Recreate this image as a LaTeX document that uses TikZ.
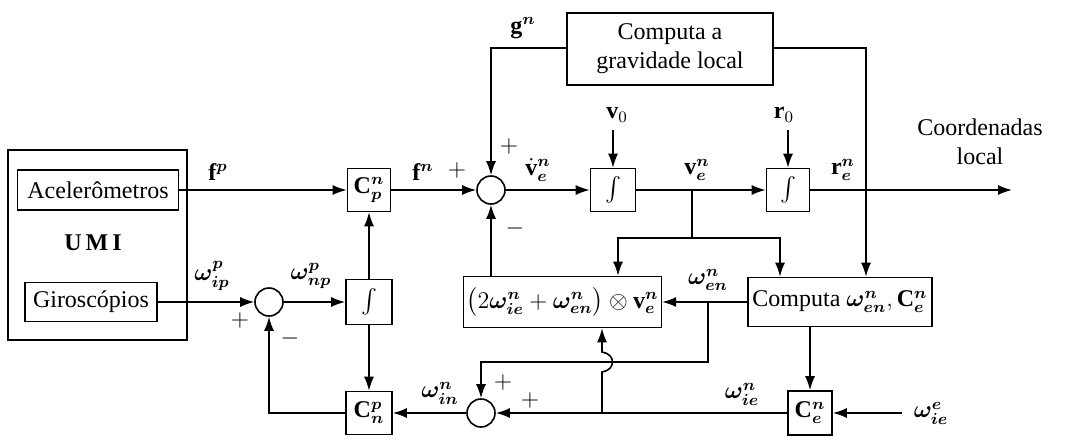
\documentclass[tikz,border=0pt,12pt]{standalone}
\usepackage{amsmath, amssymb}
\usepackage{bm}
\usepackage{fontspec}
\setmainfont{Liberation Serif}
\usepackage{tikz}
\usetikzlibrary{positioning, arrows.meta}
\newcommand{\om}{\bm{\omega}}

\begin{document}
\begin{tikzpicture}[x=0.5pt, y=-0.5pt, line width=0.8pt,
  every node/.style={inner sep=1.5pt},
  blk/.style={draw, rectangle},
  sumc/.style={draw, circle, minimum size=14pt, inner sep=0pt},
  arr/.style={-{Latex[length=7pt,width=5pt]}}]
  \useasboundingbox (0,0) rectangle (1066,440);
  % IMU
  \node[blk,minimum width=89.5pt,minimum height=95pt] (umi) at (97.5,245) {};
  \node[blk,minimum width=80.5pt,minimum height=20pt] (acel) at (98,190) {Acelerômetros};
  \node[blk,minimum width=66pt,minimum height=19.5pt] (giro) at (91,302) {Giroscópios};
  \node[font=\bfseries] (umit) at (93,243) {U\,M\,I};
  % attitude loop
  \node[sumc] (s1) at (269,302) {};
  \node[blk,minimum width=21.5pt,minimum height=21.5pt] (cpn) at (369,190) {$\mathbf{C}^{\bm n}_{\bm p}$};
  \node[blk,minimum width=23pt,minimum height=22.5pt] (int1) at (369,302) {$\int$};
  \node[blk,minimum width=23pt,minimum height=21.5pt] (cnp) at (369,413) {$\mathbf{C}^{\bm p}_{\bm n}$};
  % navigation
  \node[sumc] (s2) at (491,190) {};
  \node[blk,minimum width=22.5pt,minimum height=21.5pt] (int2) at (613,190) {$\int$};
  \node[blk,minimum width=21.5pt,minimum height=21.5pt] (int3) at (788,190) {$\int$};
  \node[blk,minimum width=103pt,minimum height=36pt,align=center] (grav) at (670,49) {Computa a\\gravidade local};
  \node[blk,minimum width=95.5pt,minimum height=25.5pt] (cross) at (562.5,302) {$\big(2\om^{\bm n}_{\bm{ie}}+\om^{\bm n}_{\bm{en}}\big)\otimes\mathbf{v}^{\bm n}_{\bm e}$};
  \node[blk,minimum width=92pt,minimum height=24.5pt] (compw) at (840,302) {Computa $\om^{\bm n}_{\bm{en}},\mathbf{C}^{\bm n}_{\bm e}$};
  \node[sumc] (s3) at (481,413) {};
  \node[blk,minimum width=22pt,minimum height=22pt] (cen) at (810,413) {$\mathbf{C}^{\bm n}_{\bm e}$};
  % free ends and branch points
  \coordinate (v0in) at (613,130);
  \coordinate (r0in) at (788,130);
  \coordinate (out) at (1012,190);
  \coordinate (wiein) at (902,413);
  \coordinate (jv) at (692,190);
  \coordinate (jen) at (708,302);
  \coordinate (jie) at (602,413);
  % labels
  \node (fp) at (218,172) {$\mathbf{f}^{\bm p}$};
  \node (wip) at (212,276) {$\om^{\bm p}_{\bm{ip}}$};
  \node (pl1) at (240,320) {$+$};
  \node (mi1) at (290,338) {$-$};
  \node (wnp) at (311,276) {$\om^{\bm p}_{\bm{np}}$};
  \node (fn) at (423,172) {$\mathbf{f}^{\bm n}$};
  \node (pl2a) at (457,170) {$+$};
  \node (pl2b) at (509,146) {$+$};
  \node (mi2) at (515,228) {$-$};
  \node (gn) at (523,28) {$\mathbf{g}^{\bm n}$};
  \node (vdot) at (538,170) {$\dot{\mathbf{v}}^{\bm n}_{\bm e}$};
  \node (v0) at (617,115) {$\mathbf{v}_0$};
  \node (ve) at (697,170) {$\mathbf{v}^{\bm n}_{\bm e}$};
  \node (r0) at (784,115) {$\mathbf{r}_0$};
  \node (re) at (843,170) {$\mathbf{r}^{\bm n}_{\bm e}$};
  \node[align=center] (coord) at (980,142) {Coordenadas\\local};
  \node (wen) at (708,280) {$\om^{\bm n}_{\bm{en}}$};
  \node (wie) at (742,394) {$\om^{\bm n}_{\bm{ie}}$};
  \node (wiee) at (931,413) {$\om^{\bm e}_{\bm{ie}}$};
  \node (win) at (440,393) {$\om^{\bm n}_{\bm{in}}$};
  \node (pl3a) at (503,382) {$+$};
  \node (pl3b) at (530,400) {$+$};
  % connectors
  \draw[arr] (acel) -- (cpn);
  \draw[arr] (giro) -- (s1);
  \draw[arr] (s1) -- (int1);
  \draw[arr] (int1) -- (cpn);
  \draw[arr] (int1) -- (cnp);
  \draw[arr] (cnp.west) -| (s1.south);
  \draw[arr] (cpn) -- (s2);
  \draw[arr] (grav.west |- 0,48) -| (s2.north);
  \draw[arr] (grav.east |- 0,48) -| (compw.north -| 866,0);
  \draw[arr] (s2) -- (int2);
  \draw[arr] (v0in) -- (int2.north);
  \draw[arr] (r0in) -- (int3.north);
  \draw[arr] (int2) -- (int3);
  \draw[arr] (int3) -- (out);
  \draw (jv) -- (692,238);
  \draw[arr] (692,238) -| (cross.north -| 618,0);
  \draw[arr] (692,238) -| (compw.north -| 780,0);
  \draw[arr] (cross.north -| s2) -- (s2.south);
  \draw[arr] (compw.west) -- (cross.east);
  \draw[arr] (jen) -- (708,362) -| (s3.north);
  \draw[arr] (compw.south -| cen) -- (cen.north);
  \draw[arr] (wiein) -- (cen.east);
  \draw[arr] (cen.west) -- (s3.east);
  \draw[arr] (jie) -- (602,372) .. controls (616,370) and (616,354) .. (602,352) -- (cross.south -| jie);
  \draw[arr] (s3) -- (cnp);
\end{tikzpicture}
\end{document}
